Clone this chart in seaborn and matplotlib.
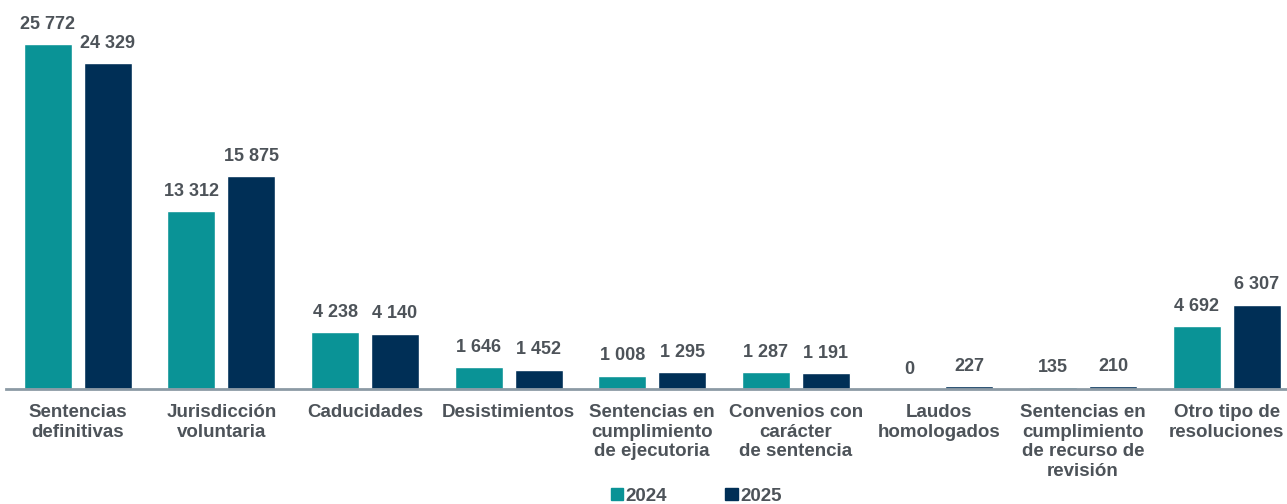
import matplotlib
matplotlib.use("Agg")
import matplotlib.pyplot as plt
import seaborn as sns
import pandas as pd

categorias = ["Sentencias\ndefinitivas", "Jurisdicción\nvoluntaria", "Caducidades",
              "Desistimientos", "Sentencias en\ncumplimiento\nde ejecutoria",
              "Convenios con\ncarácter\nde sentencia", "Laudos\nhomologados",
              "Sentencias en\ncumplimiento\nde recurso de\nrevisión",
              "Otro tipo de\nresoluciones"]
valores_2024 = [25772, 13312, 4238, 1646, 1008, 1287, 0, 135, 4692]
valores_2025 = [24329, 15875, 4140, 1452, 1295, 1191, 227, 210, 6307]
anios = ["2024", "2025"]

colores = ["#0a9396", "#002f56"]
gris = "#4d5359"

df = pd.DataFrame({
    "categoria": categorias * 2,
    "anio": [anios[0]] * len(categorias) + [anios[1]] * len(categorias),
    "valor": valores_2024 + valores_2025,
})

sns.set_style("white")
plt.rcParams["font.family"] = ["Liberation Sans", "DejaVu Sans"]

fig = plt.figure(figsize=(12.87, 5.04), dpi=100)
ax = fig.add_axes([6 / 1287, 115 / 504, 1281 / 1287, 389 / 504])

sns.barplot(data=df, x="categoria", y="valor", hue="anio", palette=colores,
            width=0.836, gap=0.2, ax=ax, legend=False, saturation=1)

for cont in ax.containers:
    for bar in cont:
        h = bar.get_height()
        ax.annotate(f"{int(h):,}".replace(",", " "),
                    (bar.get_x() + bar.get_width() / 2, h),
                    xytext=(0, 8), textcoords="offset points",
                    ha="center", va="bottom", fontsize=13,
                    fontweight="bold", color=gris)

ax.set_ylim(0, 29060)
ax.set_xlim(-0.5, 8.42)
ax.set_yticks([])
ax.set_xlabel("")
ax.set_ylabel("")
for s in ["top", "right", "left"]:
    ax.spines[s].set_visible(False)
ax.spines["bottom"].set_color("#8c9aa5")
ax.spines["bottom"].set_linewidth(2)
ax.tick_params(axis="x", length=0, pad=11)
for lbl in ax.get_xticklabels():
    lbl.set_fontsize(13.5)
    lbl.set_fontweight("bold")
    lbl.set_color(gris)
    lbl.set_linespacing(1.2)

handles = [plt.Rectangle((0, 0), 1, 1, color=c) for c in colores]
fig.legend(handles, anios, loc="lower center", bbox_to_anchor=(0.541, -0.035),
           ncol=2, frameon=False, handlelength=0.65, handleheight=0.65,
           handletextpad=0.15, columnspacing=3.1,
           prop={"weight": "bold", "size": 13.5})
for t in fig.legends[0].get_texts():
    t.set_color(gris)

fig.savefig("out.png", dpi=100)
